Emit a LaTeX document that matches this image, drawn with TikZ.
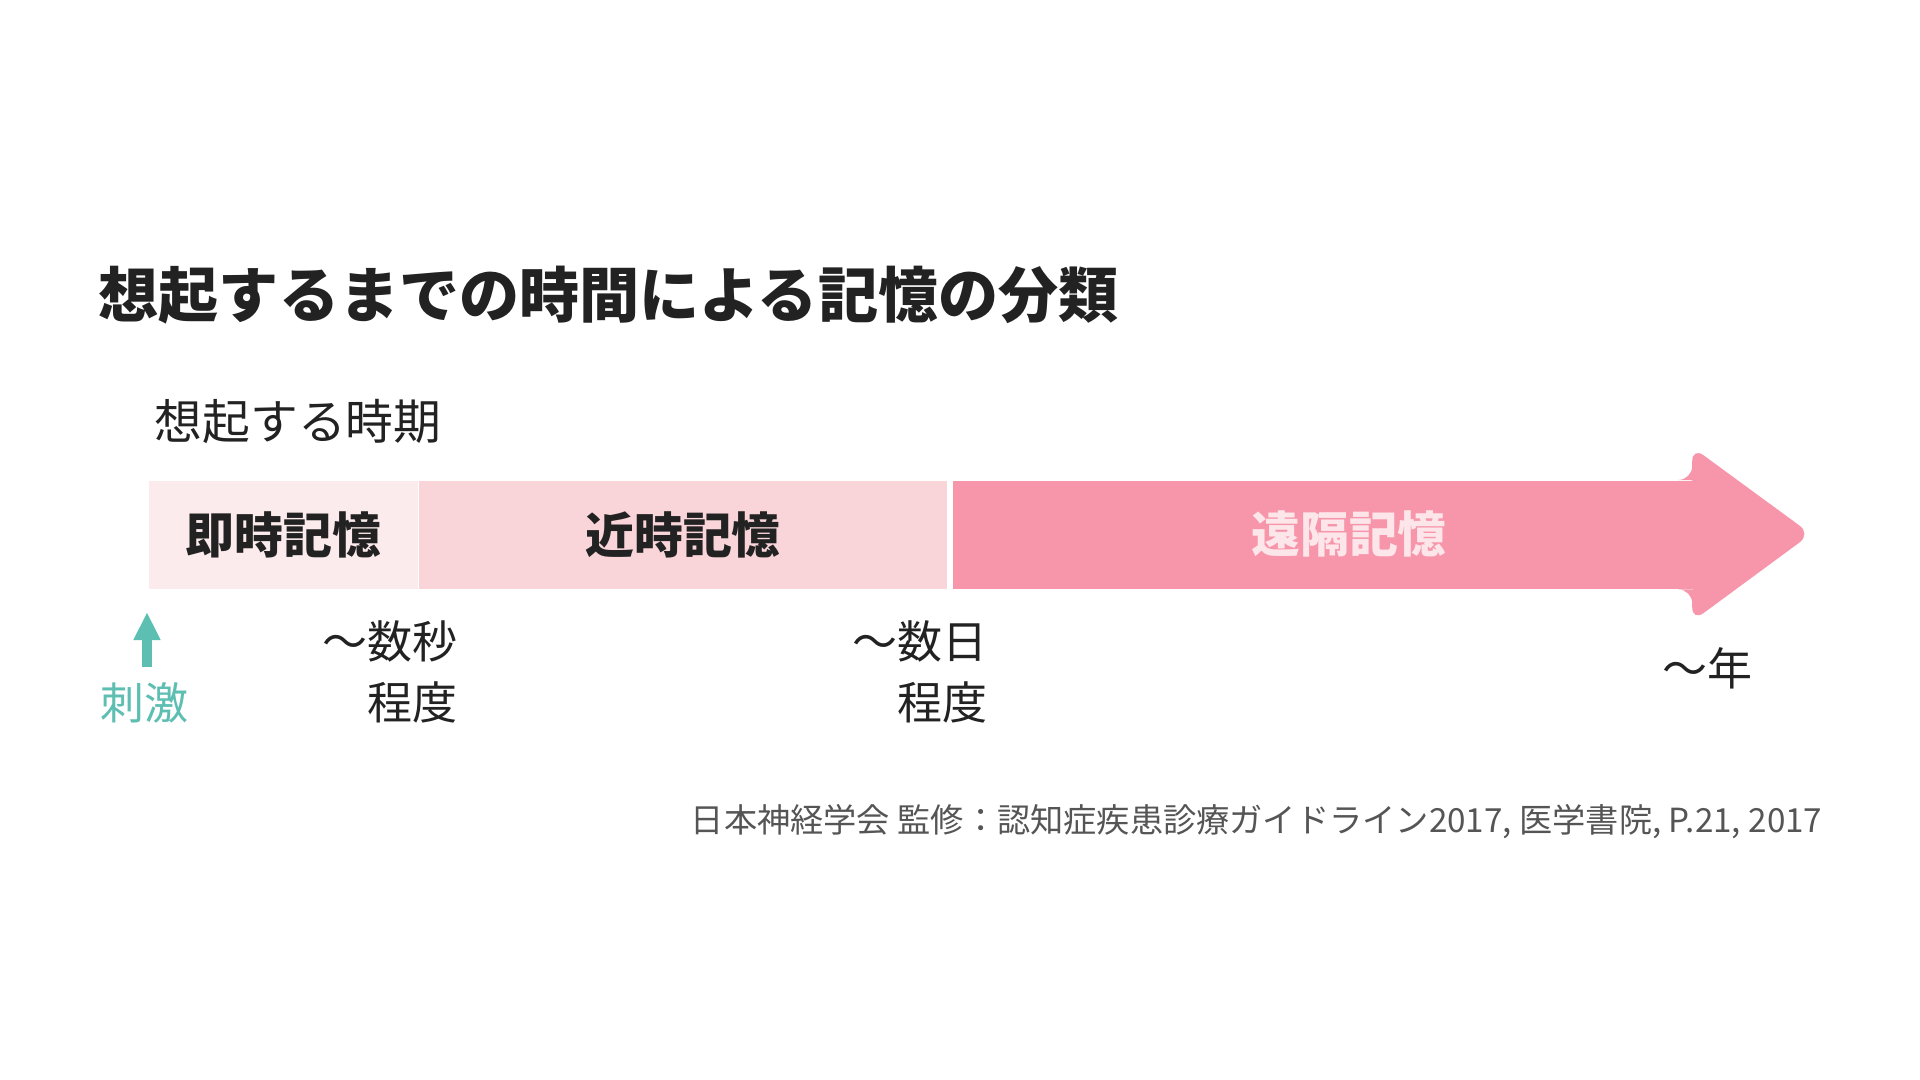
\documentclass[tikz,border=0pt]{standalone}
\usepackage{fontspec}
\setmainfont{Noto Sans CJK JP}
\usetikzlibrary{positioning,arrows.meta}

\definecolor{inkdark}{HTML}{222222}
\definecolor{citegray}{HTML}{555555}
\definecolor{nowpink}{HTML}{FCEBEC}
\definecolor{nearpink}{HTML}{F9D5DA}
\definecolor{farpink}{HTML}{F796AA}
\definecolor{fartext}{HTML}{FDE6EA}
\definecolor{stimteal}{HTML}{5DBEB2}

\begin{document}
\begin{tikzpicture}
    [band/.style={rectangle,minimum height=1.08cm,inner sep=0pt,
       text=inkdark,font=\bfseries\fontsize{13.9}{16}\selectfont},
     timing/.style={align=right,inner sep=0pt,text=inkdark,
       font=\fontsize{12.8}{17.4}\selectfont}]
  \useasboundingbox[fill=white] (0,0) rectangle (19.2,-10.8);
  % headings
  \node[anchor=west,inner sep=0pt,text=inkdark,font=\bfseries\fontsize{17.1}{20}\selectfont]
    (title) at (0.98,-2.95) {想起するまでの時間による記憶の分類};
  \node[anchor=west,inner sep=0pt,text=inkdark,font=\fontsize{13.6}{16}\selectfont]
    (period) at (1.54,-4.22) {想起する時期};
  % the time band
  \node[band,fill=nowpink,minimum width=2.69cm,anchor=north west]
    (now) at (1.48,-4.80) {即時記憶};
  \node[band,fill=nearpink,minimum width=5.28cm,right=0cm of now] (near) {近時記憶};
  \node[band,fill=farpink,minimum width=7.39cm,right=0.04cm of near] (far) {};
  \fill[farpink,rounded corners=4pt]
    ([xshift=-1mm]far.north east) -- (far.north east) -- ++(0,0.33)
    -- (18.11,-5.34) -- ([yshift=-3.2mm]far.south east) -- (far.south east)
    -- ([xshift=-1mm]far.south east) -- cycle;
  \node[inner sep=0pt,text=fartext,font=\bfseries\fontsize{13.9}{16}\selectfont]
    (farlabel) at (13.49,-5.34) {遠隔記憶};
  % stimulus
  \coordinate (stimfoot) at (1.47,-6.67);
  \coordinate (stimtop) at (1.47,-6.12);
  \draw[stimteal,line width=1mm,-{Triangle[width=2.5mm,length=2.8mm]}] (stimfoot) -- (stimtop);
  \node[inner sep=0pt,text=stimteal,font=\fontsize{12.5}{15}\selectfont]
    (stim) at (1.44,-7.03) {刺激};
  % durations
  \node[timing,anchor=east] (secs) at (4.58,-6.72) {〜数秒\\程度};
  \node[timing,anchor=east] (days) at (9.88,-6.72) {〜数日\\程度};
  \node[timing,anchor=east] (years) at (17.53,-6.68) {〜年};
  % source
  \node[anchor=east,inner sep=0pt,text=citegray,font=\fontsize{9.45}{12}\selectfont]
    (source) at (18.23,-8.22) {日本神経学会 監修：認知症疾患診療ガイドライン2017, 医学書院, P.21, 2017};
\end{tikzpicture}
\end{document}
